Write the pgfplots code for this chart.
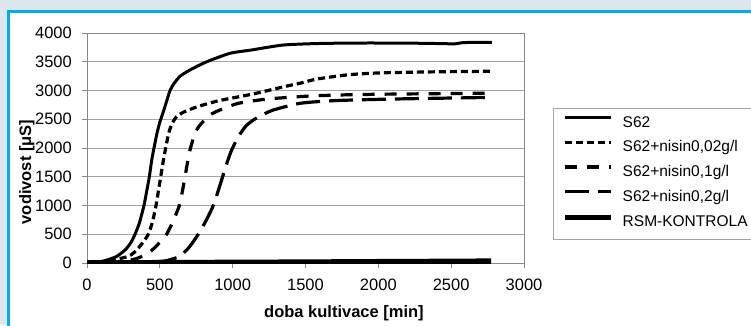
\documentclass[border=0pt]{standalone}
\usepackage{pgfplots}
\pgfplotsset{compat=1.18}
\usepackage{fontspec}
\setmainfont{Liberation Sans}
\definecolor{bgc}{RGB}{221,232,238}
\definecolor{bluec}{RGB}{0,174,239}
\definecolor{gridc}{RGB}{165,165,165}
\definecolor{axc}{RGB}{135,135,135}
\begin{document}
\begin{tikzpicture}
\useasboundingbox (0pt,0pt) rectangle (751pt,325pt);
\fill[bgc] (0pt,0pt) rectangle (751pt,325pt);
\begin{scope}
\clip (0pt,0pt) rectangle (751pt,325pt);
\filldraw[fill=white, draw=bluec, line width=3pt] (8.5pt,-20pt) rectangle (790pt,314pt);
\end{scope}
\draw[gridc, line width=0.8pt] (553pt,86pt) rectangle (790pt,217pt);
\begin{axis}[
  at={(87pt,62pt)}, anchor=south west,
  scale only axis, width=437pt, height=230pt,
  xmin=0, xmax=3000, ymin=0, ymax=4000,
  xtick={0,500,...,3000}, ytick={0,500,...,4000},
  tick pos=left, tick align=outside,
  major tick length=5pt,
  every tick/.style={axc, line width=0.8pt},
  axis line style={axc, line width=1pt},
  ymajorgrids, grid style={gridc, line width=0.8pt},
  /pgf/number format/assume math mode=true,
  /pgf/number format/set thousands separator={},
  ticklabel style={font=\fontsize{16.5}{19}\selectfont},
  yticklabel style={anchor=east, inner sep=0pt, xshift=-10pt},
  xticklabel style={anchor=north, inner sep=0pt, yshift=-11pt},
  xlabel={doba kultivace [min]},
  ylabel={vodivost [μS]},
  label style={font=\fontsize{16.5}{19}\selectfont\bfseries},
  xlabel style={at={(axis description cs:0.588,-0.239)}, anchor=base},
  ylabel style={at={(axis description cs:-0.128,0.396)}, anchor=base, rotate=0},
  legend style={at={(axis description cs:1.087,0.639)}, anchor=north west,
    draw=none, fill=none, inner sep=0pt, row sep=10.5pt, column sep=9pt,
    font=\fontsize{15.5}{18}\selectfont,
    nodes={inner sep=0pt, text height=11pt, text depth=3pt}},
  legend cell align=left,
  legend image code/.code={\draw[#1] (0pt,5.5pt) -- (46pt,5.5pt);},
]
\addplot[black, line width=3pt, smooth, tension=0.4] coordinates {
(0,0) (100,25) (200,110) (261,226) (300,350) (330,500) (360,700) (391,1000)
(410,1250) (428,1500) (445,1800) (460,2000) (480,2250) (500,2450) (520,2600)
(545,2800) (570,3000) (600,3130) (640,3250) (707,3357) (822,3500) (982,3647)
(1130,3705) (1348,3791) (1600,3818) (1900,3826) (2200,3824) (2450,3815)
(2520,3810) (2580,3832) (2650,3836) (2780,3836)};
\addlegendentry{S62}
\addplot[black, line width=3.2pt, dash pattern=on 7pt off 4pt, smooth, tension=0.4] coordinates {
(0,0) (150,40) (284,116) (341,226) (390,380) (421,500) (450,720) (474,1000)
(490,1250) (506,1500) (522,1750) (540,2000) (560,2250) (580,2400) (610,2530)
(660,2620) (760,2720) (900,2820) (1040,2890) (1150,2945) (1350,3065)
(1460,3125) (1580,3200) (1800,3275) (2030,3308) (2400,3325) (2770,3335)};
\addlegendentry{S62+nisin0,02g/l}
\addplot[black, line width=3.2pt, dash pattern=on 12pt off 10pt, smooth, tension=0.4] coordinates {
(0,0) (200,20) (300,50) (364,100) (430,190) (478,300) (520,420) (547,500)
(590,720) (634,1000) (655,1250) (673,1500) (690,1750) (707,1965) (741,2255)
(776,2400) (844,2574) (913,2661) (1039,2777) (1233,2850) (1500,2900)
(1700,2920) (2000,2935) (2400,2945) (2780,2955)};
\addlegendentry{S62+nisin0,1g/l}
\addplot[black, line width=3.2pt, dash pattern=on 24pt off 9pt, smooth, tension=0.4] coordinates {
(0,0) (300,10) (450,20) (535,35) (600,80) (638,120) (700,270) (764,500)
(820,750) (867,1000) (900,1250) (931,1500) (962,1750) (993,1965) (1040,2200)
(1090,2380) (1142,2487) (1200,2570) (1279,2661) (1462,2777) (1691,2823)
(2011,2847) (2400,2865) (2780,2880)};
\addlegendentry{S62+nisin0,2g/l}
\addplot[black, line width=5.5pt] coordinates {
(0,0) (500,5) (1000,10) (1500,15) (2000,22) (2500,28) (2774,32)};
\addlegendentry{RSM-KONTROLA}
\end{axis}
\end{tikzpicture}
\end{document}
